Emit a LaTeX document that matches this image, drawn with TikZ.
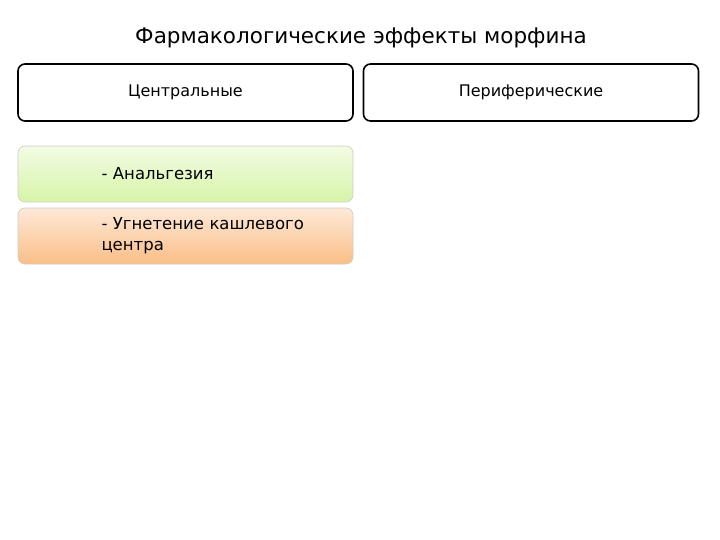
\documentclass[tikz,border=0pt]{standalone}
\usepackage{fontspec}
\setmainfont{DejaVu Sans}
\begin{document}
\begin{tikzpicture}[x=1pt,y=-1pt,
  hdr/.style={draw=black,line width=1.6pt,rounded corners=7pt,minimum width=335pt,minimum height=57pt,font=\fontsize{16}{19}\selectfont,fill=white},
  item/.style={draw=black!20,line width=0.6pt,rounded corners=7pt,minimum width=335pt,minimum height=56pt,font=\fontsize{16.5}{21}\selectfont,text width=300pt,align=left}]
\useasboundingbox (0,0) rectangle (720,540);
\node[font=\fontsize{21.5}{25}\selectfont] (title) at (361,38) {Фармакологические эффекты морфина};
\node[hdr] (central) at (185.5,92.5) {Центральные};
\node[hdr] (periph) at (531,92.5) {Периферические};
\node[item,top color={rgb,255:red,243;green,252;blue,228},bottom color={rgb,255:red,214;green,244;blue,168}] (analg) at (185.5,174) {\hspace*{66pt}- Анальгезия};
\node[item,top color={rgb,255:red,253;green,233;blue,216},bottom color={rgb,255:red,251;green,190;blue,134}] (cough) at (185.5,236) {\hspace*{66pt}- Угнетение кашлевого\\\hspace*{66pt}центра};
\end{tikzpicture}
\end{document}
